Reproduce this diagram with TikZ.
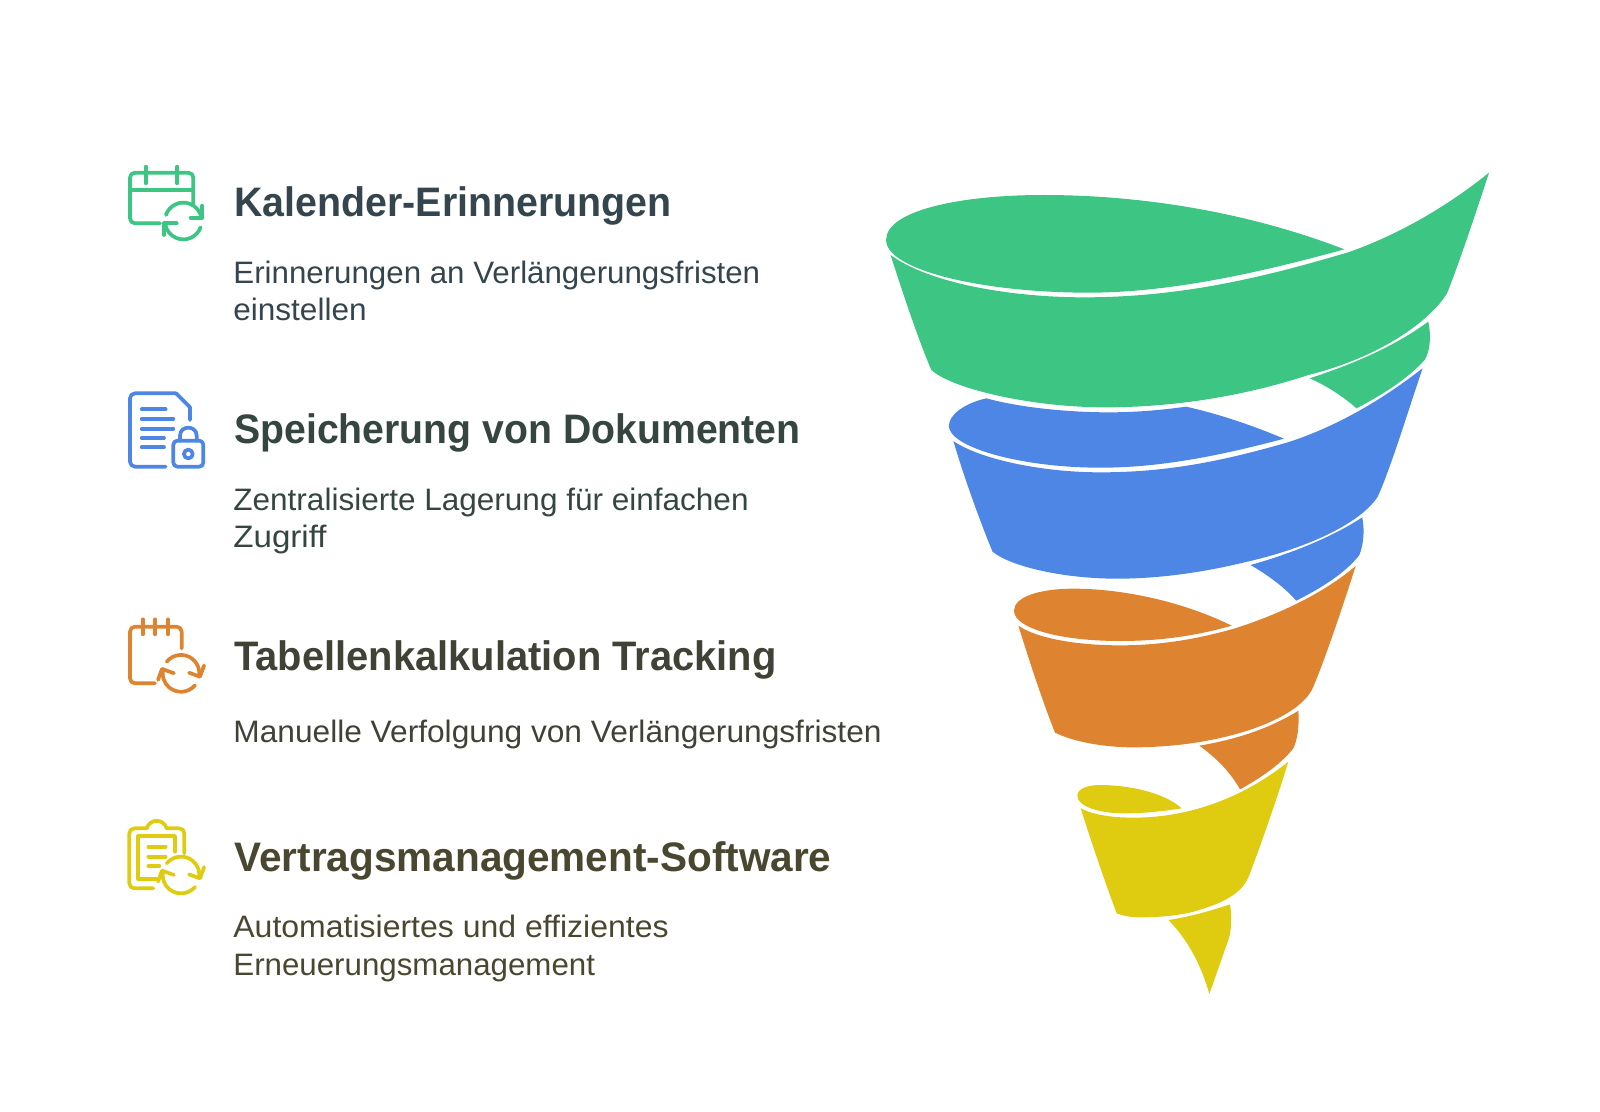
\documentclass[tikz,border=0pt]{standalone}
\usepackage{graphicx}
\usepackage{fontspec}
\newfontfamily\headfont[FakeStretch=0.96]{Liberation Sans}
\newfontfamily\bodyfont[FakeStretch=1.017]{Liberation Sans}
\definecolor{cgreen}{HTML}{3CC583}
\definecolor{cblue}{HTML}{4D86E5}
\definecolor{corange}{HTML}{DE8431}
\definecolor{cyellow}{HTML}{DFCC10}
\definecolor{tone}{HTML}{34454E}
\definecolor{ttwo}{HTML}{35453F}
\definecolor{tthree}{HTML}{3F4235}
\definecolor{tfour}{HTML}{4A4730}
\tikzset{
  headtext/.style={anchor=base west,inner sep=0pt,font=\headfont\bfseries\fontsize{20.6}{24}\selectfont},
  bodytext/.style={anchor=base west,inner sep=0pt,align=left,font=\bodyfont\fontsize{15.5}{18.7}\selectfont},
  iconline/.style={line width=1.85pt,line cap=round,line join=round},
  uppersp/.style={shift={(860,160)},x=0.20383pt,y=-0.16667pt},
  lowersp/.style={shift={(960,540)},x=0.16667pt,y=-0.16667pt},
}
\newcommand{\syncarrows}[4]{% x y rotation colour, in zoom units
  \begin{scope}[shift={(#1,#2)},rotate=#3,x=1pt,y=1pt,iconline,draw=#4]
    \draw (161:9.2) arc (161:10:9.2);
    \draw (9.5,7.67) -- (9.5,1.67) -- (3.67,1.67);
    \draw (-20:9.2) arc (-20:-173:9.2);
    \draw (-9.67,-7) -- (-9.67,-1.17) -- (-3.33,-1.17);
  \end{scope}}
\begin{document}
\begin{tikzpicture}[x=0.5pt,y=-0.5pt]
\useasboundingbox (0,0) rectangle (1600,1112);
% texts
\node[headtext,text=tone] (h1) at (234,216.7) {\scalebox{0.995}[1]{Kalender-Erinnerungen}};
\node[bodytext,text=tone] (b1) at (233,321) {\scalebox{0.992}[1]{Erinnerungen an Verlängerungsfristen}\\einstellen};
\node[headtext,text=ttwo] (h2) at (234,444) {\scalebox{0.991}[1]{Speicherung von Dokumenten}};
\node[bodytext,text=ttwo] (b2) at (233,547.5) {Zentralisierte Lagerung für einfachen\\\scalebox{1.05}[1]{Zugriff}};
\node[headtext,text=tthree] (h3) at (234,670.7) {\scalebox{1.008}[1]{Tabellenkalkulation Tracking}};
\node[bodytext,text=tthree] (b3) at (233,742.7) {\scalebox{1.005}[1]{Manuelle Verfolgung von Verlängerungsfristen}};
\node[headtext,text=tfour] (h4) at (234,871) {\scalebox{1.025}[1]{Vertragsmanagement-Software}};
\node[bodytext,text=tfour] (b4) at (233,975.3) {\scalebox{1.015}[1]{Automatisiertes und effizientes}\\\scalebox{0.992}[1]{Erneuerungsmanagement}};
% icon 1
\begin{scope}[shift={(100,140)},x=0.16667pt,y=-0.16667pt]
  \draw[iconline,cgreen,rounded corners=2.5pt] (180,250) -- (90,250) -- (90,98) -- (280,98) -- (280,190);
  \draw[iconline,cgreen] (90,150) -- (280,150);
  \draw[iconline,cgreen] (137,80) -- (137,130);
  \draw[iconline,cgreen] (232,80) -- (232,130);
  \syncarrows{250}{243}{0}{cgreen}
\end{scope}
% icon 2
\begin{scope}[shift={(100,370)},x=0.16667pt,y=-0.16667pt]
  \draw[iconline,cblue,rounded corners=2.5pt] (197,290) -- (90,290) -- (90,70) -- (228,70);
  \draw[iconline,cblue] (228,70) -- (270,112) -- (270,150);
  \draw[iconline,cblue] (125,118) -- (197,118);
  \draw[iconline,cblue] (125,147) -- (220,147);
  \draw[iconline,cblue] (125,176) -- (220,176);
  \draw[iconline,cblue] (125,204) -- (192,204);
  \draw[iconline,cblue] (125,232) -- (192,232);
  \draw[iconline,cblue,rounded corners=2pt] (220,212) rectangle (310,290);
  \draw[iconline,cblue] (240,212) -- (240,197) .. controls (240,165) and (290,165) .. (290,197) -- (290,212);
  \draw[iconline,cblue] (265,252) circle[radius=2.2pt];
\end{scope}
% icon 3
\begin{scope}[shift={(100,600)},x=0.16667pt,y=-0.16667pt]
  \draw[iconline,corange,rounded corners=2.5pt] (165,250) -- (90,250) -- (90,80) -- (245,80) -- (245,145);
  \draw[iconline,corange] (128,58) -- (128,103);
  \draw[iconline,corange] (166,58) -- (166,103);
  \draw[iconline,corange] (204,58) -- (204,103);
  \syncarrows{243}{220}{-20}{corange}
\end{scope}
% icon 4
\begin{scope}[shift={(100,800)},x=0.16667pt,y=-0.16667pt]
  \draw[iconline,cyellow,rounded corners=2.5pt] (160,265) -- (88,265) -- (88,85) -- (140,85);
  \draw[iconline,cyellow] (140,85) .. controls (150,55) and (190,55) .. (200,85);
  \draw[iconline,cyellow,rounded corners=2.5pt] (200,85) -- (253,85) -- (253,160);
  \draw[iconline,cyellow] (170,237) -- (115,237) -- (115,108) -- (225,108) -- (225,155);
  \draw[iconline,cyellow] (145,140) -- (197,140);
  \draw[iconline,cyellow] (145,170) -- (197,170);
  \draw[iconline,cyellow] (145,198) -- (178,198);
  \syncarrows{243}{225}{-20}{cyellow}
\end{scope}
% funnel top
\begin{scope}[uppersp]
  \fill[cgreen] (64,240) .. controls (64,150) and (250,105) .. (450,105) .. controls (700,105) and (960,160) .. (1188,268)
    .. controls (960,345) and (750,398) .. (560,398) .. controls (300,398) and (64,330) .. (64,240) -- cycle;
  \fill[cgreen] (75,285) .. controls (170,370) and (370,412) .. (550,412) .. controls (800,412) and (1010,345) .. (1200,276)
    .. controls (1330,220) and (1450,130) .. (1543,38)
    .. controls (1500,200) and (1460,340) .. (1440,400)
    .. controls (1400,480) and (1280,590) .. (1100,645) .. controls (950,705) and (780,742) .. (600,742)
    .. controls (430,742) and (230,690) .. (175,630)
    .. controls (140,530) and (100,380) .. (75,285) -- cycle;
  \fill[cgreen] (1103,655) .. controls (1210,612) and (1310,560) .. (1394,485)
    .. controls (1402,530) and (1398,575) .. (1385,600)
    .. controls (1340,660) and (1280,705) .. (1218,745)
    .. controls (1190,715) and (1150,680) .. (1103,655) -- cycle;
  \fill[cblue] (218,798) .. controls (218,765) and (255,730) .. (310,715)
    .. controls (400,745) and (520,757) .. (610,757) .. controls (680,757) and (740,750) .. (800,740)
    .. controls (890,765) and (970,800) .. (1040,836)
    .. controls (860,895) and (720,923) .. (590,923) .. controls (390,923) and (218,860) .. (218,798) -- cycle;
  \fill[cblue] (229,843) .. controls (290,895) and (440,937) .. (590,937) .. controls (760,937) and (900,900) .. (1052,846)
    .. controls (1180,795) and (1290,710) .. (1380,625)
    .. controls (1340,770) and (1300,930) .. (1270,1010)
    .. controls (1230,1085) and (1110,1160) .. (950,1205) .. controls (850,1235) and (740,1256) .. (630,1256)
    .. controls (500,1256) and (370,1220) .. (325,1175)
    .. controls (290,1070) and (255,950) .. (229,843) -- cycle;
  \fill[cblue] (958,1215) .. controls (1060,1180) and (1160,1130) .. (1232,1072)
    .. controls (1238,1110) and (1236,1150) .. (1225,1185)
    .. controls (1190,1240) and (1130,1285) .. (1070,1322)
    .. controls (1040,1280) and (1000,1245) .. (958,1215) -- cycle;
\end{scope}
% funnel bottom
\begin{scope}[lowersp]
  \fill[corange] (162,212) .. controls (162,170) and (240,146) .. (340,146) .. controls (500,146) and (680,190) .. (815,257)
    .. controls (700,290) and (590,303) .. (480,303) .. controls (300,303) and (162,265) .. (162,212) -- cycle;
  \fill[corange] (175,257) .. controls (230,295) and (350,316) .. (480,316) .. controls (600,316) and (710,298) .. (825,265)
    .. controls (960,222) and (1090,160) .. (1187,78)
    .. controls (1140,225) and (1090,370) .. (1060,440)
    .. controls (1020,540) and (780,622) .. (520,622) .. controls (430,622) and (340,605) .. (285,578)
    .. controls (250,490) and (210,370) .. (175,257) -- cycle;
  \fill[corange] (718,617) .. controls (830,598) and (930,565) .. (1015,512)
    .. controls (1018,560) and (1012,600) .. (1000,625)
    .. controls (960,675) and (900,715) .. (840,748)
    .. controls (810,695) and (770,655) .. (718,617) -- cycle;
  \fill[cyellow] (352,767) .. controls (352,745) and (385,735) .. (420,735) .. controls (500,735) and (610,755) .. (665,805)
    .. controls (600,815) and (550,820) .. (490,820) .. controls (420,820) and (352,800) .. (352,767) -- cycle;
  \fill[cyellow] (362,805) .. controls (400,825) and (460,833) .. (520,833) .. controls (700,833) and (860,765) .. (985,665)
    .. controls (950,780) and (900,920) .. (870,1000)
    .. controls (850,1060) and (790,1090) .. (700,1115) .. controls (650,1128) and (590,1132) .. (540,1132)
    .. controls (515,1132) and (490,1128) .. (470,1120)
    .. controls (440,1040) and (400,925) .. (362,805) -- cycle;
  \fill[cyellow] (625,1140) .. controls (690,1130) and (750,1113) .. (810,1093)
    .. controls (816,1130) and (815,1170) .. (805,1200) -- (748,1362)
    .. controls (725,1280) and (685,1200) .. (625,1140) -- cycle;
\end{scope}
\end{tikzpicture}
\end{document}
